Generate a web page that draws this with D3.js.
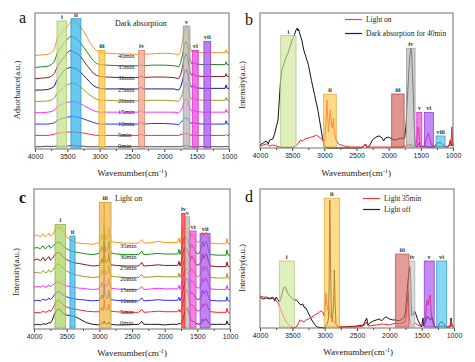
<!DOCTYPE html>
<html>
<head>
<meta charset="utf-8">
<script src="https://cdn.jsdelivr.net/npm/d3@7"></script>
<style>
body { margin: 0; background: #fff; }
svg { display: block; }
</style>
</head>
<body>
<div id="chart"></div>
<script>
// ---------- panel a : dark absorption, stacked spectra ----------
const gridA = [4000,3900,3800,3750,3700,3660,3620,3580,3540,3500,
  3460,3420,3380,3340,3300,3250,3200,3150,3100,3050,
  3000,2900,2700,2400,2360,2330,2200,2000,1850,1780,
  1750,1720,1690,1660,1640,1620,1600,1570,1545,1520,
  1400,1200,1060,1045,1030,1000]
const timesA = ['0min','5min','10min','15min','20min','25min','30min','35min','40min']
const a0 = [0.0,0.0,0.05,0.0,0.05,0.05,0.05,0.05,0.05,0.05, 0.1,0.1,0.1,0.05,0.05,0.05,0.0,0.0,0.0,0.0, 0.0,0.0,0.0,0.0,0.05,0.0,0.0,0.0,0.0,0.0, 0.0,0.05,0.1,0.1,0.1,0.05,0.0,0.0,0.0,0.0, 0.0,0.0,0.0,0.05,0.0,0.0]
const a5 = [0.0,0.0,0.0,0.05,0.1,0.2,0.2,0.25,0.25,0.3, 0.3,0.3,0.3,0.25,0.25,0.2,0.15,0.1,0.05,0.0, 0.0,0.0,0.0,0.0,0.1,0.0,0.0,0.0,0.0,0.0, 0.05,0.1,0.15,0.15,0.15,0.1,0.05,0.0,0.05,0.0, 0.0,0.0,0.0,0.1,0.0,0.0]
const a10 = [0.0,0.0,0.0,0.05,0.1,0.3,0.4,0.5,0.55,0.6, 0.65,0.7,0.65,0.6,0.55,0.45,0.35,0.25,0.15,0.05, 0.0,0.0,0.0,0.0,0.2,0.0,0.05,0.05,0.0,-0.05, 0.1,0.3,0.5,0.55,0.5,0.3,0.1,0.05,0.15,0.05, 0.0,0.0,0.0,0.3,0.0,0.0]
const a15 = [0.0,0.0,0.05,0.1,0.2,0.5,0.65,0.75,0.85,0.9, 0.95,1.0,0.95,0.9,0.8,0.65,0.5,0.35,0.2,0.1, 0.05,0.05,0.05,0.05,0.2,0.05,0.05,0.05,0.05,0.0, 0.15,0.5,1.05,1.25,1.1,0.6,0.25,0.15,0.25,0.1, 0.05,0.05,0.05,0.3,0.05,0.05]
const a20 = [0.0,0.0,0.05,0.1,0.3,0.7,0.9,1.1,1.3,1.45, 1.55,1.6,1.55,1.45,1.3,1.05,0.8,0.55,0.35,0.2, 0.1,0.1,0.05,0.05,0.2,0.05,0.1,0.1,0.05,0.0, 0.2,0.7,1.35,1.6,1.4,0.8,0.35,0.2,0.3,0.15, 0.1,0.1,0.1,0.35,0.1,0.1]
const a25 = [0.0,0.0,0.05,0.15,0.35,0.9,1.2,1.5,1.8,1.9, 2.0,2.0,1.9,1.8,1.6,1.3,1.0,0.7,0.4,0.25, 0.15,0.1,0.1,0.1,0.25,0.1,0.1,0.1,0.1,0.0, 0.25,0.8,1.6,1.85,1.6,0.9,0.4,0.25,0.4,0.2, 0.15,0.15,0.15,0.45,0.15,0.15]
const a30 = [0.0,0.05,0.1,0.2,0.45,1.0,1.4,1.7,2.0,2.3, 2.5,2.4,2.3,2.2,2.0,1.6,1.2,0.85,0.5,0.3, 0.2,0.15,0.1,0.1,0.25,0.1,0.15,0.15,0.1,0.0, 0.3,1.0,1.9,2.2,1.9,1.1,0.5,0.3,0.45,0.25, 0.2,0.2,0.2,0.45,0.2,0.2]
const a35 = [0.0,0.05,0.1,0.25,0.5,1.2,1.6,1.9,2.2,2.5, 2.7,2.7,2.6,2.4,2.2,1.8,1.4,1.0,0.6,0.35, 0.25,0.2,0.15,0.15,0.25,0.15,0.2,0.2,0.15,0.05, 0.35,1.1,2.0,2.3,2.0,1.2,0.55,0.3,0.45,0.3, 0.25,0.25,0.25,0.5,0.25,0.25]
const a40 = [0.05,0.1,0.15,0.3,0.6,1.5,1.9,2.1,2.4,2.6, 2.9,3.2,3.0,2.9,2.6,2.2,1.7,1.2,0.8,0.5, 0.35,0.25,0.2,0.15,0.25,0.15,0.2,0.25,0.2,0.1, 0.4,1.3,2.3,2.7,2.4,1.5,0.7,0.4,0.55,0.35, 0.3,0.3,0.3,0.55,0.3,0.3]
const seriesA = [a0, a5, a10, a15, a20, a25, a30, a35, a40]

const bandLabelsA = ['i','ii','iii','iv','v','vi','vii']
const bandRangesA = [[3660,3510],[3444,3290],[3011,2918],[2397,2305],[1708,1604],[1569,1476],[1388,1284]]
const bandTopsA = [11.3, 11.5, 8.7, 8.7, 10.85, 8.7, 9.5]

// ---------- panel b : light on vs dark 40min ----------
const waveBDark = [4000,3950,3900,3870,3850,3800,3770,3740,3720,3700,3680,3660,3640,3620,3600,3580,3560,3540,3520,3500,
  3480,3460,3440,3420,3410,3400,3380,3350,3320,3300,3270,3250,3200,3150,3100,3067,3030,3000,2950,2500,
  2400,2360,2340,2300,2250,2200,2150,2100,2080,2050,2000,1950,1900,1850,1800,1770,1750,1730,1710,1690,
  1670,1655,1640,1620,1600,1590,1560,1530,1500,1450,1400,1300,1250,1200,1150,1100,1060,1040,1020,1000]
const intBDark = [2.2,3.7,5.2,3,5.9,6.7,11,17,20.7,35.6,50,57.8,60.7,63.7,66.7,68.9,71,74,77,80,
  82,84.4,87.4,88.9,86.7,88,84.4,80,72.6,69.6,65,62,50,39,28,18.5,8,1.5,0,0,
  0.5,3,0.5,1.5,6,8,9,7.4,5.2,7.4,8,6.7,6,6.7,7.4,6.7,8,17,35.6,54,
  69,74,69,43,13,2.2,0.7,3.7,0.7,1.5,0.7,0.7,3,4.4,2.2,0.7,1.5,6,1.5,3]
const waveBLight = [4000,3950,3900,3850,3800,3750,3700,3600,3500,3450,3400,3370,3340,3300,3250,3200,3150,3120,3080,3040,
  3010,2990,2970,2960,2950,2935,2920,2905,2890,2875,2860,2845,2820,2780,2700,2600,2400,2360,2340,1800,
  1720,1690,1670,1650,1620,1590,1560,1545,1530,1515,1480,1440,1420,1400,1380,1360,1340,1300,1200,1100,
  1060,1040,1030,1020,1010,1000]
const intBLight = [1.5,2.2,3,1.5,2.2,1.5,0.7,0.4,0.4,1.5,3.7,6,5.2,6.7,7.4,8.1,8.9,9.6,8.1,6.7,
  4.4,6,24.4,35.6,24.4,11.9,20.7,28,17,14.8,22,11.9,6,3,1.5,0.7,0.7,3,0.7,0.7,
  1.5,3,1.5,3,1.5,0.7,6,15.6,13.3,2.2,0.7,1.5,6,8.9,11.1,7.4,3,0.7,1.5,0.7,
  2.2,6,1.5,15.6,9.6,1.5]
const bandLabelsB = ['i','ii','iii','iv','v','vi','viii']
const bandRangesB = [[3678,3440],[3010,2815],[1953,1760],[1725,1590],[1563,1486],[1445,1305],[1263,1123]]
const bandTopsB = [83.2, 39.8, 40, 73.9, 26.4, 26.4, 8.9]

// ---------- panel c : light on, stacked spectra ----------
const gridC = [4000,3950,3900,3860,3830,3800,3770,3750,3720,3690,
  3660,3630,3600,3570,3540,3500,3450,3400,3350,3300,
  3250,3200,3100,3000,2975,2960,2945,2935,2925,2915,
  2895,2870,2855,2845,2820,2750,2600,2400,2350,2320,
  2200,2100,2000,1900,1800,1780,1765,1740,1720,1700,
  1680,1650,1630,1610,1585,1560,1520,1480,1440,1420,
  1400,1380,1360,1330,1300,1200,1100,1060,1045,1030,
  1000]
const timesC = ['0min','5min','10min','15min','20min','25min','30min','35min']
const c0 = [0.0,0.05,0.0,0.1,0.05,0.1,0.2,0.15,0.4,0.9,
  1.2,1.35,1.3,1.1,0.95,0.85,0.8,0.75,0.65,0.5,
  0.35,0.2,0.05,0.0,0.1,0.2,0.1,0.15,0.35,0.15,
  0.1,0.1,0.25,0.1,0.05,0.0,0.0,0.05,0.3,0.05,
  0.05,0.05,0.0,0.05,0.05,0.15,0.05,0.2,0.5,0.9,
  1.3,1.45,1.0,0.5,0.35,0.3,0.15,0.05,0.15,0.5,
  0.35,0.45,0.5,0.2,0.05,0.05,0.05,0.05,0.35,0.05,
  0.05]
const c5 = [0.05,0.1,0.05,0.2,0.1,0.15,0.3,0.15,0.35,0.7,
  1.0,1.1,1.05,0.85,0.7,0.55,0.45,0.4,0.35,0.3,
  0.25,0.2,0.15,0.15,0.3,0.5,0.25,0.4,1.2,0.5,
  0.3,0.35,0.8,0.4,0.2,0.15,0.1,0.1,0.35,0.1,
  0.15,0.2,0.15,0.15,0.15,0.35,0.1,0.4,0.9,1.4,
  1.9,2.0,1.3,0.7,0.8,0.6,0.3,0.2,0.4,0.85,
  0.6,0.8,0.85,0.4,0.15,0.1,0.1,0.1,0.45,0.1,
  0.1]
const c10 = [0.1,0.15,0.1,0.25,0.15,0.2,0.35,0.2,0.35,0.6,
  0.8,0.9,0.85,0.7,0.55,0.45,0.35,0.3,0.25,0.2,
  0.2,0.15,0.1,0.15,0.35,0.6,0.3,0.5,1.5,0.6,
  0.3,0.4,1.0,0.45,0.2,0.15,0.1,0.1,0.35,0.1,
  0.15,0.2,0.15,0.15,0.15,0.4,0.1,0.45,1.0,1.5,
  1.95,2.0,1.3,0.7,0.85,0.65,0.3,0.2,0.45,1.0,
  0.7,0.9,1.0,0.45,0.15,0.1,0.1,0.1,0.45,0.1,
  0.1]
const c15 = [0.3,0.35,0.3,0.45,0.3,0.35,0.5,0.35,0.45,0.6,
  0.7,0.75,0.7,0.6,0.5,0.4,0.35,0.3,0.25,0.2,
  0.2,0.15,0.1,0.15,0.4,0.7,0.35,0.55,1.8,0.7,
  0.35,0.45,1.1,0.5,0.2,0.15,0.1,0.1,0.35,0.1,
  0.15,0.2,0.15,0.15,0.15,0.45,0.1,0.5,1.1,1.6,
  1.9,1.85,1.2,0.7,0.9,0.7,0.3,0.2,0.5,1.1,
  0.75,1.0,1.1,0.5,0.15,0.1,0.1,0.1,0.45,0.1,
  0.1]
const c20 = [0.55,0.6,0.5,0.75,0.55,0.6,0.8,0.6,0.7,1.0,
  1.2,1.3,1.25,1.05,0.85,0.7,0.55,0.45,0.35,0.3,
  0.25,0.2,0.15,0.2,0.45,0.75,0.4,0.6,2.0,0.75,
  0.35,0.5,1.2,0.55,0.25,0.2,0.15,0.15,0.4,0.15,
  0.2,0.25,0.2,0.2,0.2,0.5,0.15,0.55,1.2,1.6,
  1.8,1.7,1.1,0.65,0.9,0.7,0.3,0.2,0.5,1.1,
  0.75,1.0,1.1,0.5,0.15,0.1,0.1,0.1,0.5,0.1,
  0.1]
const c25 = [0.65,0.75,0.6,0.9,0.6,0.8,0.95,0.65,0.8,1.05,
  1.25,1.3,1.25,1.05,0.85,0.7,0.55,0.45,0.4,0.35,
  0.3,0.25,0.15,0.2,0.5,0.8,0.4,0.65,2.3,0.8,
  0.4,0.5,1.3,0.55,0.25,0.2,0.15,0.15,0.45,0.15,
  0.2,0.25,0.2,0.2,0.2,0.55,0.15,0.6,1.3,1.65,
  1.75,1.6,1.0,0.65,1.0,0.75,0.3,0.2,0.55,1.2,
  0.8,1.1,1.2,0.55,0.15,0.1,0.1,0.1,0.5,0.1,
  0.1]
const c30 = [0.7,0.75,0.65,0.9,0.65,0.75,0.95,0.7,0.8,1.0,
  1.15,1.2,1.15,1.0,0.8,0.65,0.5,0.4,0.35,0.3,
  0.25,0.2,0.15,0.25,0.55,0.85,0.45,0.7,2.6,0.85,
  0.4,0.55,1.3,0.6,0.3,0.2,0.15,0.15,0.45,0.15,
  0.2,0.25,0.2,0.2,0.2,0.6,0.15,0.65,1.4,1.6,
  1.65,1.5,0.95,0.65,1.0,0.75,0.3,0.2,0.6,1.3,
  0.85,1.2,1.3,0.55,0.15,0.1,0.1,0.1,0.55,0.1,
  0.1]
const c35 = [0.75,0.85,0.7,0.95,0.7,0.8,1.0,0.75,0.85,1.15,
  1.45,1.55,1.5,1.3,1.0,0.7,0.45,0.3,0.2,0.15,
  0.1,0.1,0.05,0.2,0.6,0.9,0.45,0.8,3.6,0.95,
  0.45,0.6,1.45,0.65,0.3,0.2,0.15,0.15,0.45,0.15,
  0.2,0.3,0.2,0.2,0.2,0.6,0.15,0.7,1.5,1.4,
  1.5,1.35,0.85,0.6,0.95,0.7,0.3,0.2,0.55,1.1,
  0.75,1.0,1.1,0.5,0.15,0.1,0.1,0.1,0.55,0.1,
  0.1]
const seriesC = [c0, c5, c10, c15, c20, c25, c30, c35]
const bandLabelsC = ['i','ii','iii','iv','v','vi','vii']
const bandRangesC = [[3678,3515],[3449,3372],[3000,2821],[1738,1688],[1683,1622],[1611,1520],[1458,1305]]
const bandTopsC = [8.97, 7.97, 10.86, 9.91, 9.62, 8.4, 8.2]

// ---------- panel d : light 35min vs light off ----------
const waveDOff = [4000,3950,3900,3850,3800,3770,3750,3720,3700,3680,3660,3640,3620,3600,3580,3560,3540,3520,3500,3470,
  3440,3420,3400,3370,3340,3310,3290,3260,3230,3200,3160,3120,3000,2960,2940,2930,2920,2910,2895,2880,
  2860,2850,2840,2825,2800,2700,2500,2400,2350,2330,2300,2250,2200,2150,2120,2080,2050,2000,1950,1900,
  1850,1800,1770,1750,1730,1710,1690,1680,1670,1660,1650,1630,1610,1590,1560,1520,1500,1480,1470,1440,
  1410,1390,1370,1340,1320,1300,1250,1220,1190,1160,1120,1060,1045,1030,1000]
const intDOff = [22,20.9,21.6,20.9,21.6,19.4,22.3,20.1,18.7,20.9,24.5,28,29.7,28.8,25.9,24.5,23,22.3,20.9,20.1,
  20.1,19.4,18,16.5,17.3,14.4,14.4,11.5,8.6,5.8,2.9,0.7,0,2.9,7.2,34.5,92,49,7.2,4.3,
  20,41.7,20,2.9,0.7,0.7,1.4,2.2,7.2,2.2,3.6,5,5.8,6.5,5,7.2,7.9,6.5,5.8,5.8,
  5,6.5,7.9,11.5,23.7,34.5,41.7,44,34.5,16.5,8.6,10,12.2,10,5.8,2.2,0.7,7.2,1.4,4.3,
  8.6,7.2,5.8,7.9,4.3,0.7,0.7,3.6,4.5,2.9,0.7,0.7,7.2,1.4,0.7]
const waveDLight = [4000,3950,3900,3850,3800,3760,3720,3700,3670,3640,3610,3580,3550,3520,3480,3440,3410,3380,3350,3320,
  3290,3250,3200,3150,3100,3060,3030,3005,2990,2980,2970,2955,2940,2920,2900,2870,2840,2800,2700,2500,
  2400,2350,2330,2200,2100,2000,1900,1850,1800,1760,1740,1725,1710,1700,1690,1670,1640,1600,1560,1520,
  1480,1450,1430,1415,1400,1385,1370,1355,1340,1310,1250,1200,1100,1060,1045,1030,1000]
const intDLight = [23,22.3,22.3,21.6,22.3,20.1,18,15.8,12.2,8.6,5.8,3.6,2.2,0.7,0,0.7,2.9,5.8,5,4.3,
  5.8,6.5,7.9,9.4,10.8,12.2,11.5,8.6,16.5,25.2,18.7,13,15.8,9.4,7.2,5,3.6,1.4,0.7,0.7,
  1.4,4.3,1.4,2.2,2.9,2.2,3.6,2.9,3.6,4.3,8.6,16.5,25.9,20,7.2,2.9,2.2,3.6,2.2,1.4,
  2.2,4.3,13,20,16.5,21.6,23.7,13,5.8,1.4,0.7,1.4,0.7,1.4,5.8,1.4,0.7]
const bandLabelsD = ['i','ii','iii','iv','v','vi']
const bandRangesD = [[3702,3470],[3006,2773],[1903,1697],[1682,1606],[1460,1306],[1268,1114]]
const bandTopsD = [48.2, 93.3, 53.2, 48.2, 48.2, 48.2]

const majorTicks = [4000, 3500, 3000, 2500, 2000, 1500, 1000]
const minorTicks = [3750, 3250, 2750, 2250, 1750, 1250]

// ---------- drawing ----------
const serif = '"Liberation Serif","Times New Roman",serif'
const sans = '"Liberation Sans",Arial,sans-serif'

const svg = d3.select('#chart').append('svg')
    .attr('width', 475)
    .attr('height', 362)

const colorsA = ['#4a4a4a', '#ff2a2a', '#3030ff', '#ff2cff', '#9c9c2a', '#1c1c8c', '#8e1c1c', '#1c8c1c', '#ff9418']
const colorsC = ['#1a1a1a', '#ff2020', '#2a2aff', '#ff28ff', '#9a9a20', '#8a1818', '#189018', '#ff9418']
const bandColA = ['#c6e08c', '#2fb3ea', '#ffc43a', '#f29e88', '#b2b2b2', '#f03ae2', '#a64af0']
const bandColB = ['#cfe69a', '#ffc84a', '#cf5c52', '#b4b4b4', '#f23ae4', '#a64af0', '#45c0ee']
const bandColC = ['#a8cf5a', '#2fb3ea', '#ebb43e', '#ff2e2e', '#b4b4b4', '#f24ad8', '#a64af0']
const bandColD = ['#cfe69a', '#ffc84a', '#d2685e', '#c8c8c8', '#a64af0', '#45c0ee']

function makePanel(box, yDomain) {
    let x = d3.scaleLinear().domain([4000, 1000]).range([box.x0, box.x1])
    let y = d3.scaleLinear().domain(yDomain).range([box.y1, box.y0])
    return { box: box, x: x, y: y }
}

function drawBands(p, labels, ranges, tops, colors, opacity) {
    let g = svg.append('g')
    ranges.forEach((r, i) => {
        let x0 = p.x(r[0]), x1 = p.x(r[1])
        let top = p.y(tops[i])
        g.append('rect')
            .attr('x', x0)
            .attr('y', top)
            .attr('width', x1 - x0)
            .attr('height', p.y(p.y.domain()[0]) - top - 1)
            .attr('fill', colors[i])
            .attr('fill-opacity', opacity)
            .attr('stroke', d3.color(colors[i]).darker(0.4))
            .attr('stroke-width', 0.8)
        g.append('text')
            .attr('x', (x0 + x1) / 2)
            .attr('y', top - 2)
            .attr('text-anchor', 'middle')
            .attr('font-family', serif)
            .attr('font-weight', 'bold')
            .attr('font-size', 6.5)
            .attr('fill', '#333')
            .text(labels[i])
    })
}

function drawCurve(p, waves, values, offset, color) {
    let line = d3.line()
        .x((d, i) => p.x(waves[i]))
        .y(d => p.y(d + offset))
    svg.append('path')
        .datum(values)
        .attr('fill', 'none')
        .attr('stroke', color)
        .attr('stroke-width', 1)
        .attr('stroke-linejoin', 'round')
        .attr('d', line)
}

function drawFrame(p, letter, letterBold, yTitle, xTitleX, xTitleY) {
    let b = p.box
    let ax = svg.append('g')
        .attr('transform', 'translate(0,' + b.y1 + ')')
        .call(d3.axisBottom(p.x).tickValues(majorTicks).tickSize(3).tickPadding(2).tickFormat(d3.format('d')))
        .attr('font-family', sans)
        .attr('font-size', 7)
    ax.select('.domain').remove()
    ax.selectAll('line').attr('stroke', '#444')
    ax.selectAll('text').attr('fill', '#222')

    let mi = svg.append('g')
        .attr('transform', 'translate(0,' + b.y1 + ')')
        .call(d3.axisBottom(p.x).tickValues(minorTicks).tickSize(2).tickFormat(''))
    mi.select('.domain').remove()
    mi.selectAll('line').attr('stroke', '#444')

    svg.append('rect')
        .attr('x', b.x0)
        .attr('y', b.y0)
        .attr('width', b.x1 - b.x0)
        .attr('height', b.y1 - b.y0)
        .attr('fill', 'none')
        .attr('stroke', '#707070')
        .attr('stroke-width', 1)

    svg.append('text')
        .attr('x', letter.x)
        .attr('y', letter.y)
        .attr('font-family', serif)
        .attr('font-size', 16)
        .attr('font-weight', letterBold ? 'bold' : 'normal')
        .attr('fill', '#111')
        .text(letter.t)

    svg.append('text')
        .attr('transform', 'translate(' + yTitle.x + ',' + yTitle.y + ') rotate(-90)')
        .attr('text-anchor', 'middle')
        .attr('dominant-baseline', 'central')
        .attr('font-family', serif)
        .attr('font-size', 8.5)
        .attr('fill', '#222')
        .text(yTitle.t)

    let xt = svg.append('text')
        .attr('x', xTitleX)
        .attr('y', xTitleY)
        .attr('text-anchor', 'middle')
        .attr('font-family', serif)
        .attr('font-size', 9)
        .attr('fill', '#222')
    xt.append('tspan').text('Wavenumber(cm')
    xt.append('tspan').attr('dy', -3.5).attr('font-size', 6).text('-1')
    xt.append('tspan').attr('dy', 3.5).text(')')
}

function plainText(x, y, t, size, anchor) {
    svg.append('text')
        .attr('x', x)
        .attr('y', y)
        .attr('text-anchor', anchor || 'start')
        .attr('dominant-baseline', 'central')
        .attr('font-family', serif)
        .attr('font-size', size)
        .attr('fill', '#222')
        .text(t)
}

function legend(items, x, y0, dy) {
    items.forEach((it, i) => {
        let y = y0 + i * dy
        svg.append('line')
            .attr('x1', x).attr('x2', x + 17)
            .attr('y1', y).attr('y2', y)
            .attr('stroke', it[1])
            .attr('stroke-width', 1.2)
        plainText(x + 21, y, it[0], 7.5)
    })
}

// panel a
const pA = makePanel({ x0: 35, x1: 229, y0: 13, y1: 149 }, [0, 12])
seriesA.forEach((s, i) => {
    drawCurve(pA, gridA, s, 0.2 + i * 1.0, colorsA[i])
    plainText(118, pA.y(0.2 + i * 1.0) - 1, timesA[i], 6.5)
})
drawBands(pA, bandLabelsA, bandRangesA, bandTopsA, bandColA, 0.72)
drawFrame(pA, { x: 19, y: 23, t: 'a' }, false, { x: 17, y: 90, t: 'Adsorbance(a.u.)' }, 132, 176)
plainText(115, 23, 'Dark absorption', 8)

// panel b
const pB = makePanel({ x0: 260, x1: 453, y0: 13, y1: 148 }, [0, 100])
drawCurve(pB, waveBDark, intBDark, 0, '#111')
drawCurve(pB, waveBLight, intBLight, 0, '#ff2020')
drawBands(pB, bandLabelsB, bandRangesB, bandTopsB, bandColB, 0.65)
drawFrame(pB, { x: 245, y: 25, t: 'b' }, false, { x: 242, y: 85, t: 'Intensity(a.u.)' }, 356, 176)
legend([['Light on', '#ff3a3a'], ['Dark absorption for 40min', '#222']], 345, 19.5, 14)

// panel c
const pC = makePanel({ x0: 34, x1: 230, y0: 189, y1: 329 }, [0, 12])
seriesC.forEach((s, i) => {
    drawCurve(pC, gridC, s, 0.35 + i * 0.98, colorsC[i])
    plainText(120, pC.y(0.6 + i * 0.94), timesC[i], 6.5)
})
drawBands(pC, bandLabelsC, bandRangesC, bandTopsC, bandColC, 0.7)
drawFrame(pC, { x: 19, y: 203, t: 'c' }, true, { x: 16, y: 272, t: 'Intensity(a.u.)' }, 132, 356)
plainText(115, 198, 'Light on', 8)

// panel d
const pD = makePanel({ x0: 260, x1: 454, y0: 189, y1: 328 }, [0, 100])
drawCurve(pD, waveDOff, intDOff, 0, '#111')
drawCurve(pD, waveDLight, intDLight, 0, '#ff2020')
drawBands(pD, bandLabelsD, bandRangesD, bandTopsD, bandColD, 0.65)
drawFrame(pD, { x: 245, y: 202, t: 'd' }, false, { x: 242, y: 268, t: 'Intensity(a.u.)' }, 358, 355)
legend([['Light 35min', '#ff3a3a'], ['Light off', '#222']], 363, 198.5, 11)
</script>
</body>
</html>
